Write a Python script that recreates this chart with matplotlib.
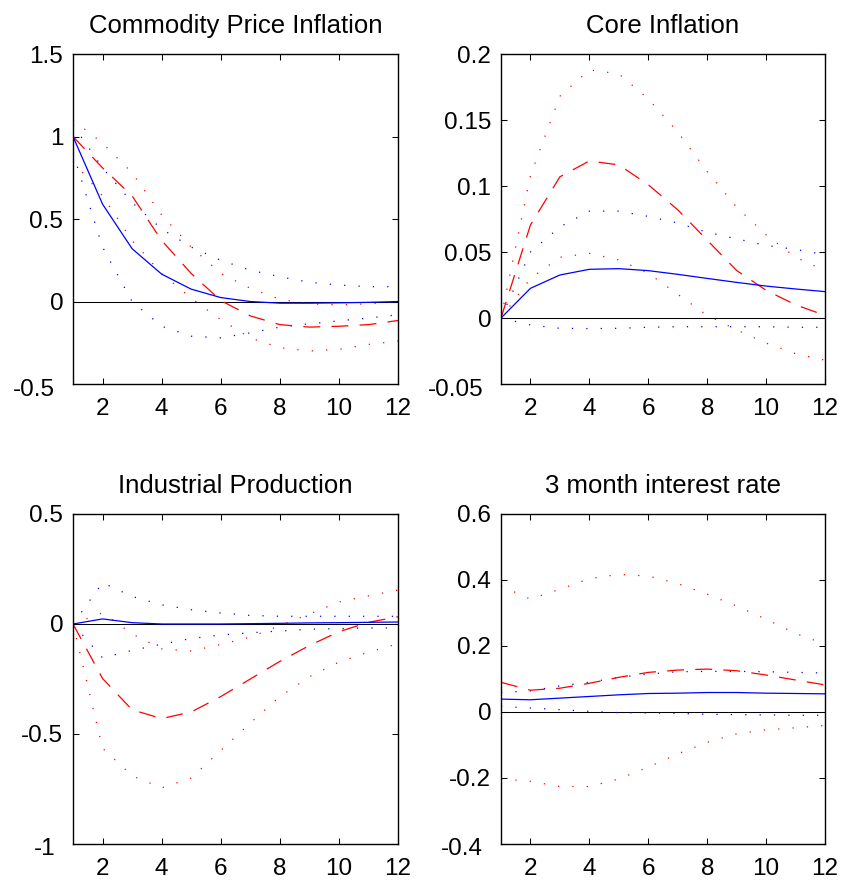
import numpy as np
import matplotlib
matplotlib.use("Agg")
import matplotlib.pyplot as plt
import matplotlib.transforms as mtransforms

plt.rcParams['font.family'] = ['Liberation Sans', 'DejaVu Sans']
plt.rcParams['axes.unicode_minus'] = False

steps = np.arange(1, 13)

# === Commodity Price Inflation ===
cpi_blue = [1.0, 0.59, 0.32, 0.166, 0.075, 0.024, 0.0, -0.01, -0.01, -0.008, -0.005, 0.0]
cpi_blue_hi = [1.07, 0.81, 0.60, 0.44, 0.33, 0.25, 0.19, 0.15, 0.117, 0.10, 0.09, 0.09]
cpi_blue_lo = [0.90, 0.33, 0.0, -0.15, -0.21, -0.22, -0.19, -0.155, -0.135, -0.117, -0.10, -0.08]
cpi_red = [1.0, 0.81, 0.64, 0.37, 0.17, 0.006, -0.087, -0.14, -0.155, -0.15, -0.14, -0.115]
cpi_red_hi = [1.10, 0.96, 0.78, 0.525, 0.33, 0.17, 0.08, 0.014, -0.014, -0.02, -0.014, 0.0]
cpi_red_lo = [0.85, 0.64, 0.37, 0.17, 0.02, -0.11, -0.22, -0.28, -0.30, -0.29, -0.26, -0.24]

# === Core Inflation ===
core_blue = [0.0, 0.0225, 0.0326, 0.0369, 0.0374, 0.0359, 0.0331, 0.030, 0.027, 0.0242, 0.022, 0.020]
core_blue_hi = [0.0, 0.050, 0.069, 0.081, 0.081, 0.077, 0.072, 0.065, 0.060, 0.055, 0.052, 0.048]
core_blue_lo = [0.0, -0.0053, -0.0078, -0.008, -0.0078, -0.007, -0.0066, -0.0066, -0.0066, -0.0066, -0.007, -0.007]
core_red = [0.0, 0.0705, 0.107, 0.119, 0.116, 0.101, 0.082, 0.059, 0.036, 0.021, 0.010, 0.002]
core_red_hi = [0.0, 0.108, 0.168, 0.188, 0.185, 0.166, 0.141, 0.111, 0.084, 0.063, 0.046, 0.036]
core_red_lo = [0.0, 0.030, 0.046, 0.049, 0.044, 0.034, 0.018, 0.002, -0.009, -0.019, -0.027, -0.032]

# === Industrial Production ===
ip_blue = [0.0, 0.023, 0.006, 0.0, 0.0, 0.0, 0.0015, 0.003, 0.005, 0.006, 0.0075, 0.009]
ip_blue_hi = [0.0, 0.188, 0.125, 0.087, 0.065, 0.050, 0.039, 0.035, 0.035, 0.035, 0.035, 0.035]
ip_blue_lo = [0.0, -0.154, -0.12, -0.092, -0.066, -0.05, -0.04, -0.032, -0.024, -0.021, -0.018, -0.018]
ip_red = [0.0, -0.248, -0.39, -0.43, -0.40, -0.33, -0.25, -0.17, -0.098, -0.035, 0.0075, 0.033]
ip_red_hi = [0.0, 0.051, -0.045, -0.113, -0.123, -0.093, -0.06, -0.0075, 0.045, 0.10, 0.128, 0.154]
ip_red_lo = [0.0, -0.565, -0.69, -0.745, -0.70, -0.575, -0.45, -0.33, -0.24, -0.173, -0.128, -0.09]

# === 3 month interest rate ===
ir_blue = [0.039, 0.037, 0.042, 0.047, 0.052, 0.056, 0.057, 0.059, 0.059, 0.057, 0.056, 0.055]
ir_blue_hi = [0.059, 0.064, 0.079, 0.090, 0.105, 0.115, 0.122, 0.123, 0.123, 0.122, 0.120, 0.118]
ir_blue_lo = [0.017, 0.012, 0.007, 0.002, -0.002, -0.003, -0.004, -0.007, -0.008, -0.009, -0.01, -0.01]
ir_red = [0.09, 0.066, 0.072, 0.087, 0.105, 0.12, 0.127, 0.13, 0.125, 0.112, 0.097, 0.082]
ir_red_hi = [0.382, 0.342, 0.372, 0.404, 0.417, 0.412, 0.389, 0.357, 0.321, 0.281, 0.238, 0.206]
ir_red_lo = [-0.203, -0.21, -0.226, -0.226, -0.203, -0.167, -0.127, -0.092, -0.066, -0.054, -0.048, -0.041]

titles = ["Commodity Price Inflation", "Core Inflation",
          "Industrial Production", "3 month interest rate"]
ytick_vals = [[-0.5, 0, 0.5, 1, 1.5],
              [-0.05, 0, 0.05, 0.1, 0.15, 0.2],
              [-1, -0.5, 0, 0.5],
              [-0.4, -0.2, 0, 0.2, 0.4, 0.6]]
ytick_labels = [["-0.5", "0", "0.5", "1", "1.5"],
                ["-0.05", "0", "0.05", "0.1", "0.15", "0.2"],
                ["-1", "-0.5", "0", "0.5"],
                ["-0.4", "-0.2", "0", "0.2", "0.4", "0.6"]]
xtick_vals = [2, 4, 6, 8, 10, 12]

panels = [
    (cpi_blue, cpi_blue_hi, cpi_blue_lo, cpi_red, cpi_red_hi, cpi_red_lo),
    (core_blue, core_blue_hi, core_blue_lo, core_red, core_red_hi, core_red_lo),
    (ip_blue, ip_blue_hi, ip_blue_lo, ip_red, ip_red_hi, ip_red_lo),
    (ir_blue, ir_blue_hi, ir_blue_lo, ir_red, ir_red_hi, ir_red_lo),
]

# axes boxes in figure fractions (left, bottom, width, height)
boxes = [[0.0865, 0.5651, 0.3851, 0.3737],
         [0.5936, 0.5651, 0.3839, 0.3737],
         [0.0865, 0.0442, 0.3851, 0.3737],
         [0.5936, 0.0442, 0.3839, 0.3737]]

fig = plt.figure(figsize=(8.44, 8.83), dpi=100)

dot = (1, 10.5)
dash = (13.5, 9)
# lowest y label sits a bit left and below, like the original
low_shift = mtransforms.ScaledTranslation(-8 / 100, -3 / 100, fig.dpi_scale_trans)

for i, (blue, blue_hi, blue_lo, red, red_hi, red_lo) in enumerate(panels):
    ax = fig.add_axes(boxes[i])
    ax.plot(steps, np.zeros(len(steps)), color='black', lw=0.75)
    ax.plot(steps, red_hi, color='red', lw=0.9, dashes=dot)
    ax.plot(steps, red_lo, color='red', lw=0.9, dashes=dot)
    ax.plot(steps, blue_hi, color='blue', lw=0.9, dashes=dot)
    ax.plot(steps, blue_lo, color='blue', lw=0.9, dashes=dot)
    ax.plot(steps, red, color='red', lw=0.9, dashes=dash)
    ax.plot(steps, blue, color='blue', lw=0.9)

    ax.set_xlim(1, 12)
    ax.set_ylim(ytick_vals[i][0], ytick_vals[i][-1])
    ax.set_xticks(xtick_vals)
    ax.set_xticklabels([str(v) for v in xtick_vals])
    ax.set_yticks(ytick_vals[i])
    ax.set_yticklabels(ytick_labels[i])
    ax.tick_params(direction='in', length=4, width=0.75, top=True, right=True,
                   labelsize=17.5)
    ax.tick_params(axis='y', pad=7)
    ax.tick_params(axis='x', pad=10)
    for s in ax.spines.values():
        s.set_linewidth(1.0)
    ax.set_title(titles[i], fontsize=18.5, pad=15)

    lab = ax.yaxis.get_major_ticks()[0].label1
    lab.set_transform(lab.get_transform() + low_shift)

fig.savefig("out.png", dpi=100)
